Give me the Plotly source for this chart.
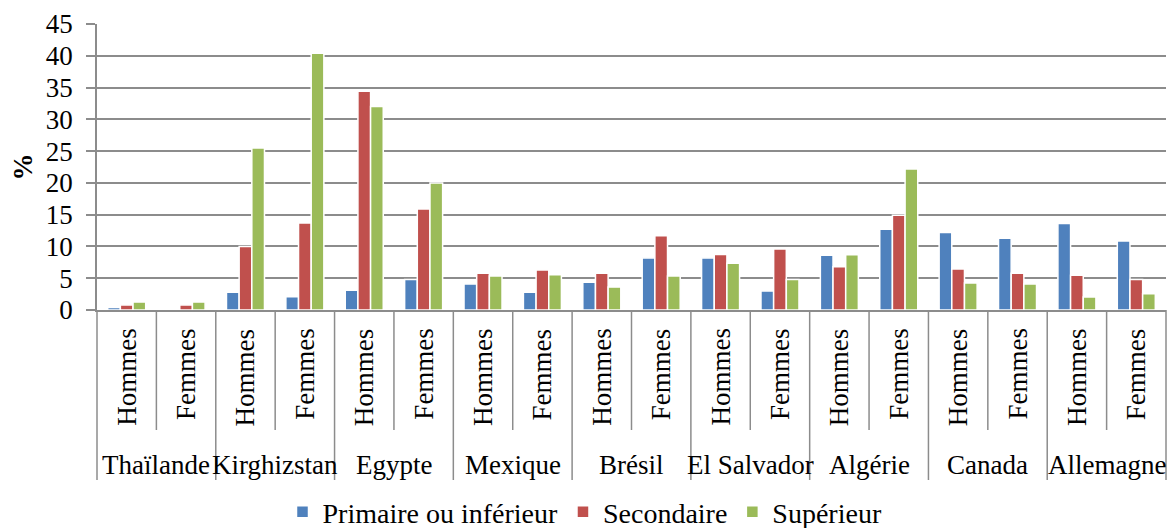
import plotly.graph_objects as go

# Categories: each country has a "Hommes" and a "Femmes" column
countries = ["Thaïlande", "Kirghizstan", "Egypte", "Mexique", "Brésil",
             "El Salvador", "Algérie", "Canada", "Allemagne"]
sexes = ["Hommes", "Femmes"]

# Values (%) per column, in the order country x sex
primaire = [0.4, 0.0, 2.8, 2.1, 3.1, 4.8, 4.1, 2.8, 4.35, 8.2,
            8.2, 3.0, 8.6, 12.7, 12.2, 11.3, 13.6, 10.85]
secondaire = [0.8, 0.8, 10.0, 13.7, 34.4, 15.9, 5.8, 6.3, 5.8, 11.7,
              8.75, 9.6, 6.8, 14.9, 6.45, 5.8, 5.45, 4.8]
superieur = [1.25, 1.25, 25.5, 40.4, 32.0, 20.0, 5.35, 5.55, 3.6, 5.35,
             7.35, 4.8, 8.7, 22.2, 4.25, 4.1, 2.05, 2.55]

series = [
    ("Primaire ou inférieur", primaire, "#4F81BD"),
    ("Secondaire", secondaire, "#C0504D"),
    ("Supérieur", superieur, "#9BBB59"),
]

FONT = "Liberation Serif"
GRID = "#8c8c8c"

n_cols = len(countries) * len(sexes)
xpos = list(range(n_cols))

fig = go.Figure()
for name, vals, color in series:
    fig.add_trace(go.Bar(
        x=xpos, y=vals, name=name,
        marker=dict(color=color, line=dict(color="white", width=1.5)),
    ))

# Layout geometry (pixels)
W, H = 1170, 528
ml, mr, mt, mb = 97, 4, 24, 218
plot_h = H - mt - mb


def py(pix):
    """Convert a pixel row on the page to paper y."""
    return (H - mb - pix) / plot_h


shapes = []
# Vertical separators under the axis: short ones between sexes,
# long ones between countries (and at both ends)
for k in range(n_cols + 1):
    xp = k / n_cols
    bottom = py(480) if k % 2 == 0 else py(430)
    shapes.append(dict(type="line", xref="paper", yref="paper",
                       x0=xp, x1=xp, y0=0, y1=bottom,
                       line=dict(color=GRID, width=1.5)))

annotations = []
# Sex labels, rotated
for i in range(n_cols):
    annotations.append(dict(
        x=i, xref="x", y=py(326), yref="paper",
        text=sexes[i % 2], textangle=-90, showarrow=False,
        xanchor="center", yanchor="top",
        font=dict(family=FONT, size=27, color="black"),
    ))
# Country labels
for j, c in enumerate(countries):
    annotations.append(dict(
        x=2 * j + 0.5, xref="x", y=py(465), yref="paper",
        text=c, showarrow=False, xanchor="center", yanchor="middle",
        font=dict(family=FONT, size=27, color="black"),
    ))

fig.update_layout(
    width=W, height=H,
    margin=dict(l=ml, r=mr, t=mt, b=mb),
    paper_bgcolor="white", plot_bgcolor="white",
    barmode="group", bargap=0.36, bargroupgap=0,
    font=dict(family=FONT, size=27, color="black"),
    shapes=shapes, annotations=annotations,
    legend=dict(
        orientation="h", xref="container", yref="container",
        x=0.5, xanchor="center", y=0.03, yanchor="middle",
        font=dict(family=FONT, size=28, color="black"),
        bgcolor="rgba(0,0,0,0)",
    ),
    xaxis=dict(
        range=[-0.5, n_cols - 0.5], showticklabels=False, ticks="",
        showgrid=False, zeroline=False,
        showline=True, linecolor=GRID, linewidth=1.5,
    ),
    yaxis=dict(
        range=[0, 45], dtick=5, tick0=0,
        showgrid=True, gridcolor=GRID, gridwidth=1.5,
        zeroline=False, showline=True, linecolor=GRID, linewidth=1.5,
        ticks="outside", ticklen=9, tickcolor=GRID, tickwidth=1.5,
        ticklabelstandoff=8,
        tickfont=dict(family=FONT, size=27, color="black"),
        title=dict(text="<b>%</b>", standoff=5,
                   font=dict(family=FONT, size=27, color="black")),
    ),
)

fig.write_html("out.html")
